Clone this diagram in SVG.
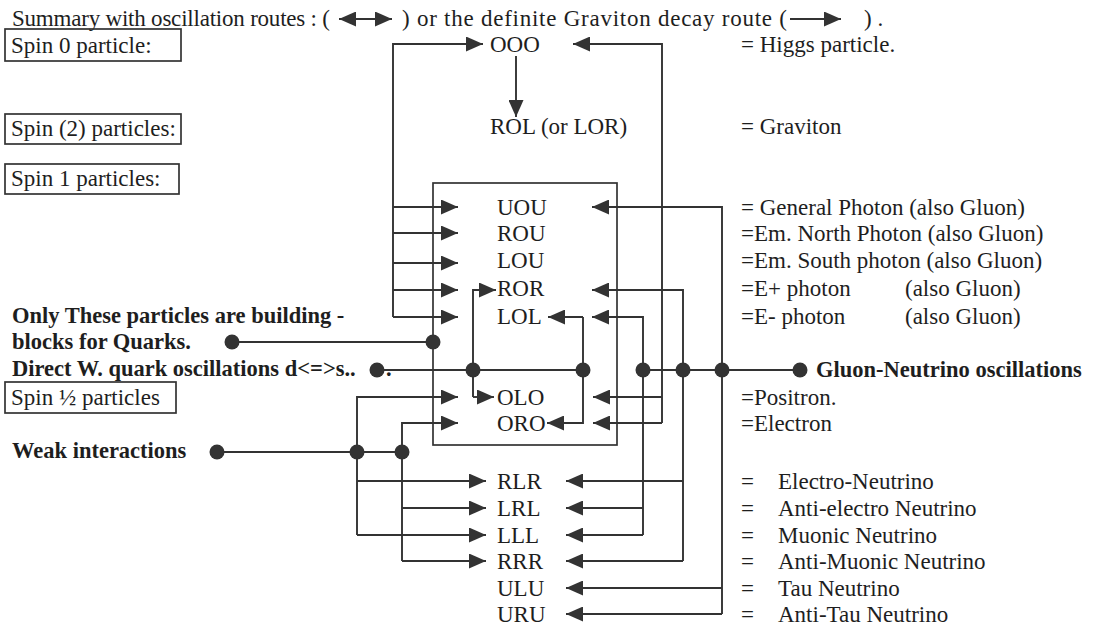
<svg xmlns="http://www.w3.org/2000/svg" width="1095" height="626" viewBox="0 0 1095 626">
<style>
text{font-family:"Liberation Serif","Times New Roman",serif;font-size:23px;fill:#1e1e1e}
.b{font-weight:bold;font-size:22.5px}
.box{fill:none;stroke:#333;stroke-width:1.7}
.c{fill:none;stroke:#333;stroke-width:1.9}
.a{marker-end:url(#ah)}
.dot{fill:#333}
</style>
<defs>
<marker id="ah" markerUnits="userSpaceOnUse" markerWidth="18" markerHeight="15" refX="17" refY="7.5" orient="auto-start-reverse" viewBox="0 0 18 15"><path d="M0,0 L17,7.5 L0,15 z" fill="#333"/></marker>
</defs>
<rect width="1095" height="626" fill="#fff"/>

<g id="title">
<text x="12" y="26" textLength="318" lengthAdjust="spacing">Summary with oscillation routes : (</text>
<path class="c" d="M339,19 H392" marker-start="url(#ah)" marker-end="url(#ah)"/>
<text x="402" y="26" textLength="385" lengthAdjust="spacing">) or the definite Graviton decay route (</text>
<path class="c a" d="M790,19 H841"/>
<text x="864" y="26">) .</text>
</g>

<g id="spin0"><rect class="box" x="5" y="29" width="176" height="32"/><text x="11" y="53">Spin 0 particle:</text></g>
<g id="spin2"><rect class="box" x="5" y="114" width="176" height="30"/><text x="11" y="136">Spin (2) particles:</text></g>
<g id="spin1"><rect class="box" x="5" y="164" width="174" height="30"/><text x="11" y="186">Spin 1 particles:</text></g>
<g id="spinhalf"><rect class="box" x="5" y="382" width="171" height="31"/><text x="11" y="405">Spin ½ particles</text></g>

<g id="quarks"><text class="b" x="12" y="323">Only These particles are building -</text><text class="b" x="12" y="349">blocks for Quarks.</text></g>
<g id="directw"><text class="b" x="12" y="376">Direct W. quark oscillations d&lt;=&gt;s..</text><text class="b" x="386" y="376">.</text></g>
<g id="weak"><text class="b" x="12" y="458">Weak interactions</text></g>
<g id="gluon"><text class="b" x="816" y="377">Gluon-Neutrino oscillations</text></g>

<g id="box"><rect class="box" x="433" y="183" width="184" height="262"/></g>

<g id="OOO"><text x="490" y="52">OOO</text><text x="741" y="52">= Higgs particle.</text></g>
<g id="ROL"><text x="490" y="134">ROL (or LOR)</text><text x="741" y="134">= Graviton</text></g>
<g id="UOU"><text x="497" y="215">UOU</text><text x="741" y="215">= General Photon (also Gluon)</text></g>
<g id="ROU"><text x="497" y="241">ROU</text><text x="741" y="241">=Em. North Photon (also Gluon)</text></g>
<g id="LOU"><text x="497" y="268">LOU</text><text x="741" y="268">=Em. South photon (also Gluon)</text></g>
<g id="ROR"><text x="497" y="296">ROR</text><text x="741" y="296">=E+ photon</text><text x="905" y="296">(also Gluon)</text></g>
<g id="LOL"><text x="497" y="324">LOL</text><text x="741" y="324">=E- photon</text><text x="905" y="324">(also Gluon)</text></g>
<g id="OLO"><text x="497" y="405">OLO</text><text x="741" y="405">=Positron.</text></g>
<g id="ORO"><text x="497" y="431">ORO</text><text x="741" y="431">=Electron</text></g>
<g id="RLR"><text x="497" y="489">RLR</text><text x="741" y="489">=</text><text x="778" y="489">Electro-Neutrino</text></g>
<g id="LRL"><text x="497" y="516">LRL</text><text x="741" y="516">=</text><text x="778" y="516">Anti-electro Neutrino</text></g>
<g id="LLL"><text x="497" y="543">LLL</text><text x="741" y="543">=</text><text x="778" y="543">Muonic Neutrino</text></g>
<g id="RRR"><text x="497" y="569">RRR</text><text x="741" y="569">=</text><text x="778" y="569">Anti-Muonic Neutrino</text></g>
<g id="ULU"><text x="497" y="596">ULU</text><text x="741" y="596">=</text><text x="778" y="596">Tau Neutrino</text></g>
<g id="URU"><text x="497" y="622">URU</text><text x="741" y="622">=</text><text x="778" y="622">Anti-Tau Neutrino</text></g>

<g id="connectors">
<path class="c a" d="M393,317 V44 H483"/>
<path class="c a" d="M393,207 H458"/>
<path class="c a" d="M393,233 H458"/>
<path class="c a" d="M393,263 H458"/>
<path class="c a" d="M393,290 H458"/>
<path class="c a" d="M393,317 H458"/>
<path class="c a" d="M516,56 V117"/>
<path class="c a" d="M662,423 V44 H573"/>
<path class="c a" d="M662,397 H593"/>
<path class="c a" d="M662,423 H593"/>
<path class="c a" d="M722,614 V207 H592"/>
<path class="c a" d="M722,588 H566"/>
<path class="c a" d="M722,614 H566"/>
<path class="c a" d="M683,561 V290 H592"/>
<path class="c a" d="M683,481 H566"/>
<path class="c a" d="M683,561 H566"/>
<path class="c a" d="M643,535 V317 H592"/>
<path class="c a" d="M643,508 H566"/>
<path class="c a" d="M643,535 H566"/>
<path class="c" d="M643,370 H800"/>
<path class="c a" d="M473,397 V290 H496"/>
<path class="c a" d="M473,397 H494"/>
<path class="c a" d="M583,317 V423 H547"/>
<path class="c a" d="M583,317 H548"/>
<path class="c" d="M377,370 H583"/>
<path class="c" d="M232,342 H433"/>
<path class="c" d="M217,452 H402"/>
<path class="c a" d="M357,535 V397 H458"/>
<path class="c a" d="M357,481 H486"/>
<path class="c a" d="M357,535 H486"/>
<path class="c a" d="M402,561 V423 H458"/>
<path class="c a" d="M402,508 H486"/>
<path class="c a" d="M402,561 H486"/>
<circle class="dot" cx="232" cy="342" r="7.5"/>
<circle class="dot" cx="433" cy="342" r="7.5"/>
<circle class="dot" cx="377" cy="370" r="7.5"/>
<circle class="dot" cx="473" cy="370" r="7.5"/>
<circle class="dot" cx="583" cy="370" r="7.5"/>
<circle class="dot" cx="643" cy="370" r="7.5"/>
<circle class="dot" cx="683" cy="370" r="7.5"/>
<circle class="dot" cx="722" cy="370" r="7.5"/>
<circle class="dot" cx="800" cy="370" r="7.5"/>
<circle class="dot" cx="217" cy="452" r="7.5"/>
<circle class="dot" cx="357" cy="452" r="7.5"/>
<circle class="dot" cx="402" cy="452" r="7.5"/>
</g>
</svg>
